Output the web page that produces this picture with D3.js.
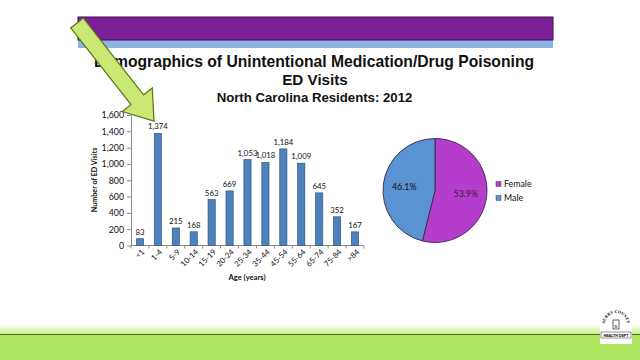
<!DOCTYPE html>
<html>
<head>
<meta charset="utf-8">
<script src="https://cdn.jsdelivr.net/npm/d3@7"></script>
<style>
  html, body { margin: 0; padding: 0; background: #fff; }
  svg { display: block; }
</style>
</head>
<body>
<svg id="chart" width="640" height="360"></svg>
<script>
// ---- data ----
const ageGroups = ["<1","1-4","5-9","10-14","15-19","20-24","25-34","35-44","45-54","55-64","65-74","75-84",">84"];
const edVisits  = [83,1374,215,168,563,669,1053,1018,1184,1009,645,352,167];
const yTickValues = [0,200,400,600,800,1000,1200,1400,1600];
const genders = ["Female","Male"];
const genderShares = [53.9,46.1];
const genderLabels = ["53.9%","46.1%"];
const titleLines = ["Demographics of Unintentional Medication/Drug Poisoning","ED Visits"];
const subtitle = "North Carolina Residents: 2012";

const svg = d3.select("#chart");
const chartFont = "Lato, 'Open Sans', sans-serif";

// ---- slide decoration: top banner ----
svg.append("rect").attr("x",78).attr("y",40).attr("width",475).attr("height",8).attr("fill","#8db3e2");
svg.append("rect").attr("x",78).attr("y",17).attr("width",475).attr("height",23)
  .attr("fill","#7d1f96").attr("stroke","#3d1048").attr("stroke-width",1);

// ---- bottom band ----
const defs = svg.append("defs");
const g1 = defs.append("linearGradient").attr("id","paleBand").attr("x1",0).attr("y1",0).attr("x2",0).attr("y2",1);
g1.append("stop").attr("offset","0%").attr("stop-color","#ffffff");
g1.append("stop").attr("offset","100%").attr("stop-color","#c8ec8c");
svg.append("rect").attr("x",0).attr("y",324).attr("width",640).attr("height",10).attr("fill","url(#paleBand)");
svg.append("rect").attr("x",0).attr("y",335).attr("width",640).attr("height",25).attr("fill","#ade55e");
svg.append("line").attr("x1",0).attr("x2",640).attr("y1",334.5).attr("y2",334.5).attr("stroke","#4e6a2a").attr("stroke-width",1.2);

// logo (approximate)
const logo = svg.append("g").attr("transform","translate(616,326)");
logo.append("rect").attr("x",-16).attr("y",-18).attr("width",32).attr("height",36).attr("fill","#fff");
logo.append("path").attr("id","logoArc").attr("d","M-11,-2 A11,11 0 0 1 11,-2").attr("fill","none");
logo.append("text").attr("font-size",4.2).attr("font-family","'Liberation Serif',serif").attr("font-weight","bold")
  .append("textPath").attr("href","#logoArc").attr("startOffset","50%").attr("text-anchor","middle").text("SURRY COUNTY");
logo.append("rect").attr("x",-3).attr("y",-6).attr("width",6).attr("height",9).attr("fill","#fff").attr("stroke","#222").attr("stroke-width",0.7);
logo.append("text").attr("x",0).attr("y",2).attr("font-size",5).attr("text-anchor","middle").attr("font-family","serif").text("R");
logo.append("rect").attr("x",-15).attr("y",6).attr("width",30).attr("height",6).attr("fill","#fff").attr("stroke","#333").attr("stroke-width",0.5);
logo.append("text").attr("x",0).attr("y",11).attr("font-size",3.6).attr("text-anchor","middle").attr("font-family","sans-serif").attr("font-weight","bold").text("HEALTH DEPT");

// ---- titles ----
svg.append("text").attr("x",314).attr("y",67).attr("text-anchor","middle")
  .attr("font-family","'Liberation Sans', Arial, sans-serif").attr("font-weight","bold").attr("font-size",15.7)
  .attr("fill","#111").text(titleLines[0]);
svg.append("text").attr("x",315).attr("y",85).attr("text-anchor","middle")
  .attr("font-family","'Liberation Sans', Arial, sans-serif").attr("font-weight","bold").attr("font-size",15.2)
  .attr("fill","#111").text(titleLines[1]);
svg.append("text").attr("x",314.5).attr("y",101.5).attr("text-anchor","middle")
  .attr("font-family","'Liberation Sans', Arial, sans-serif").attr("font-weight","bold").attr("font-size",13.2)
  .attr("fill","#111").text(subtitle);

// ---- bar chart ----
const x = d3.scaleBand().domain(ageGroups).range([131,364]).paddingInner(0.6).paddingOuter(0.3);
const y = d3.scaleLinear().domain([0,1600]).range([245.5,115]);
const catW = 233/ageGroups.length;

const yAxis = svg.append("g").attr("transform","translate(131,0)")
  .call(d3.axisLeft(y).tickValues(yTickValues).tickSize(4).tickSizeOuter(0).tickFormat(d3.format(",")));
yAxis.select(".domain").attr("stroke","#8a8a8a");
yAxis.selectAll(".tick line").attr("stroke","#8a8a8a");
yAxis.selectAll("text").attr("font-family",chartFont).attr("font-size",8.8).attr("fill","#111").attr("x",-7);

// x axis line and tick marks at category boundaries
svg.append("line").attr("x1",131).attr("x2",364).attr("y1",y(0)).attr("y2",y(0)).attr("stroke","#8a8a8a");
svg.append("g").selectAll("line").data(d3.range(ageGroups.length+1)).join("line")
  .attr("x1",i => 131 + i*catW)
  .attr("x2",i => 131 + i*catW)
  .attr("y1",y(0)).attr("y2",y(0)+3).attr("stroke","#8a8a8a");

svg.append("g").selectAll("rect").data(edVisits).join("rect")
  .attr("x",(d,i) => x(ageGroups[i]))
  .attr("y",d => y(d))
  .attr("width",x.bandwidth())
  .attr("height",d => y(0)-y(d))
  .attr("fill","#4f81bd").attr("stroke","#2f5586").attr("stroke-width",0.7);

svg.append("g").selectAll("text").data(edVisits).join("text")
  .attr("x",(d,i) => x(ageGroups[i]) + x.bandwidth()/2)
  .attr("y",d => y(d) - 4)
  .attr("text-anchor","middle")
  .attr("font-family",chartFont).attr("font-size",7.8).attr("fill","#111")
  .text(d => d3.format(",")(d));

svg.append("g").selectAll("text").data(ageGroups).join("text")
  .attr("transform",d => `translate(${x(d)+x.bandwidth()/2+3},${y(0)+5}) rotate(-45)`)
  .attr("text-anchor","end").attr("dy","0.35em")
  .attr("font-family",chartFont).attr("font-size",7.8).attr("fill","#111")
  .text(d => d);

svg.append("text").attr("x",247).attr("y",280).attr("text-anchor","middle")
  .attr("font-family",chartFont).attr("font-weight","bold").attr("font-size",7.6).attr("fill","#111")
  .text("Age (years)");
svg.append("text").attr("transform","translate(97,180) rotate(-90)").attr("text-anchor","middle")
  .attr("font-family",chartFont).attr("font-weight","bold").attr("font-size",7.2).attr("fill","#111")
  .text("Number of ED Visits");

// ---- pie chart ----
const pieColors = d3.scaleOrdinal().domain(genders).range(["#b43dcc","#5a93d1"]);
const pie = d3.pie().sort(null).value(d => d.v);
const pieData = pie(genders.map((g,i) => ({g, v: genderShares[i], label: genderLabels[i]})));
const arc = d3.arc().innerRadius(0).outerRadius(52);
const labelArc = d3.arc().innerRadius(31).outerRadius(31);
const pg = svg.append("g").attr("transform","translate(435,190.5)");
pg.selectAll("path").data(pieData).join("path")
  .attr("d",arc).attr("fill",d => pieColors(d.data.g))
  .attr("stroke","#3a2450").attr("stroke-width",0.9);
pg.selectAll("text").data(pieData).join("text")
  .attr("transform",d => { const c = labelArc.centroid(d); return `translate(${c[0]},${c[1]})`; })
  .attr("text-anchor","middle").attr("dy","0.35em")
  .attr("font-family",chartFont).attr("font-size",8.8).attr("fill",(d,i) => i===0 ? "#3a1a40" : "#111")
  .text(d => d.data.label);

// legend
const lg = svg.append("g").selectAll("g").data(genders).join("g")
  .attr("transform",(d,i) => `translate(496,${184 + i*14})`);
lg.append("rect").attr("x",0).attr("y",-2.5).attr("width",5).attr("height",5)
  .attr("fill",d => pieColors(d)).attr("stroke","#444").attr("stroke-width",0.5);
lg.append("text").attr("x",8).attr("dy","0.35em")
  .attr("font-family",chartFont).attr("font-size",8.8).attr("fill","#111").text(d => d);

// ---- highlight arrow ----
const start = [77,23], tip = [154,121];
const dx = tip[0]-start[0], dy = tip[1]-start[1], len = Math.hypot(dx,dy);
const ux = dx/len, uy = dy/len, nx = -uy, ny = ux;
const headLen = 27, shaftW = 8, headW = 19;
const bx = tip[0]-ux*headLen, by = tip[1]-uy*headLen;
const pts = [
  [start[0]+nx*shaftW, start[1]+ny*shaftW],
  [bx+nx*shaftW, by+ny*shaftW],
  [bx+nx*headW, by+ny*headW],
  tip,
  [bx-nx*headW, by-ny*headW],
  [bx-nx*shaftW, by-ny*shaftW],
  [start[0]-nx*shaftW, start[1]-ny*shaftW]
];
svg.append("polygon").attr("points",pts.map(p => p.join(",")).join(" "))
  .attr("fill","#cbe774").attr("stroke","#61791f").attr("stroke-width",1.3).attr("stroke-linejoin","miter");
</script>
</body>
</html>
